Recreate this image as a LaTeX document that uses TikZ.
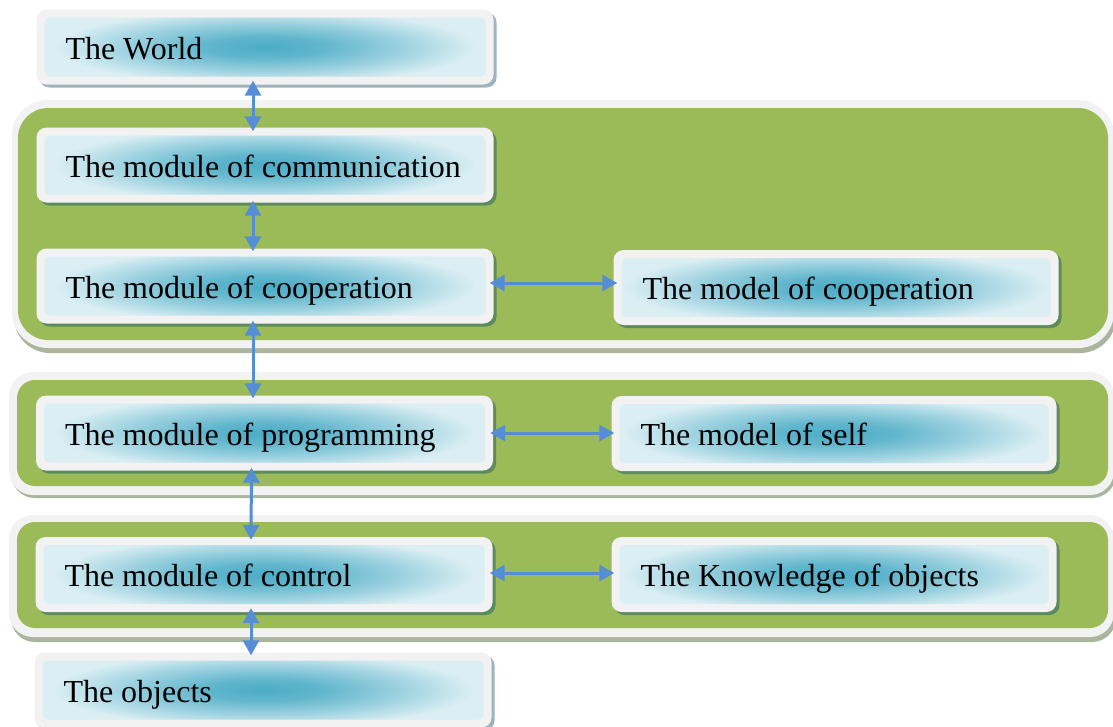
\documentclass[tikz,border=0pt]{standalone}
\usepackage{fontspec}
\setmainfont{Liberation Serif}
\usetikzlibrary{arrows.meta,calc}
\definecolor{panelgreen}{HTML}{9BBB59}
\definecolor{rimgray}{HTML}{F2F2F2}
\definecolor{glowlight}{HTML}{DAEEF3}
\definecolor{glowdark}{HTML}{4BACC6}
\colorlet{glowmidA}{glowdark!85!glowlight}
\colorlet{glowmidB}{glowdark!45!glowlight}
\definecolor{arrowblue}{HTML}{558ED5}
\definecolor{shadowgreen}{HTML}{5E8B5E}
\definecolor{shadowblue}{HTML}{9DB3BE}
\definecolor{panelshadow}{HTML}{AAB59C}
\pgfdeclareradialshading{boxglow}{\pgfpoint{0bp}{0bp}}{color(0bp)=(glowdark); color(7bp)=(glowmidA); color(16bp)=(glowmidB); color(25bp)=(glowlight); color(50bp)=(glowlight)}
\tikzset{
  stagebox/.style={rectangle, rounded corners=10pt, fill=rimgray, minimum height=75pt,
    inner sep=0pt, align=flush left, text height=24pt, text depth=0pt,
    font=\fontsize{32}{38}\selectfont,
    execute at begin node={\hspace*{6pt}},
    path picture={
      \fill[glowlight, rounded corners=5pt]
        ([shift={(8pt,-8pt)}]path picture bounding box.north west) rectangle
        ([shift={(-8pt,8pt)}]path picture bounding box.south east);
      \begin{scope}
        \clip[rounded corners=5pt]
          ([shift={(8pt,-8pt)}]path picture bounding box.north west) rectangle
          ([shift={(-8pt,8pt)}]path picture bounding box.south east);
        \shade[shading=boxglow] (path picture bounding box.center) ellipse [x radius=210pt, y radius=37pt];
      \end{scope}
    }},
  leftbox/.style={minimum width=457pt, text width=411pt},
  rightbox/.style={minimum width=445pt, text width=399pt},
  greenshadow/.style={preaction={fill=shadowgreen, transform canvas={shift={(3pt,-3pt)}}}},
  whiteshadow/.style={preaction={fill=shadowblue, transform canvas={shift={(3pt,-3pt)}}}},
  biarrow/.style={arrowblue, line width=3pt,
    {Triangle[width=16pt,length=15pt]}-{Triangle[width=16pt,length=15pt]}}
}
\begin{document}
\begin{tikzpicture}[x=1pt,y=-1pt]
\useasboundingbox (0,0) rectangle (1113,726);
% panels
\fill[panelshadow, rounded corners=36pt] (14,106) rectangle (1116,353);
\fill[rimgray, rounded corners=36pt] (12,100) rectangle (1114,348);
\fill[panelgreen, rounded corners=30pt] (18,108) rectangle (1108,340);

\fill[panelshadow, rounded corners=24pt] (11,378) rectangle (1116,498);
\fill[rimgray, rounded corners=24pt] (9,372) rectangle (1114,495);
\fill[panelgreen, rounded corners=18pt] (17,380) rectangle (1108,486);

\fill[panelshadow, rounded corners=24pt] (11,520) rectangle (1116,642);
\fill[rimgray, rounded corners=24pt] (9,515) rectangle (1114,637);
\fill[panelgreen, rounded corners=18pt] (17,522) rectangle (1108,628);

% boxes
\node[stagebox, leftbox, whiteshadow] (world) at (265,47) {The World};
\node[stagebox, leftbox, greenshadow] (comm) at (265,165) {The module of communication};
\node[stagebox, leftbox, greenshadow] (coop) at (265,286) {The module of cooperation};
\node[stagebox, rightbox, greenshadow] (modelcoop) at (836,287.5) {The model of cooperation};
\node[stagebox, leftbox, greenshadow] (prog) at (264.5,433) {The module of programming};
\node[stagebox, rightbox, greenshadow] (self) at (834,433.5) {The model of self};
\node[stagebox, leftbox, greenshadow] (control) at (264,574.5) {The module of control};
\node[stagebox, rightbox, greenshadow] (knowledge) at (834,574.5) {The Knowledge of objects};
\node[stagebox, leftbox, whiteshadow] (objects) at (263,690) {The objects};

% connectors
\draw[biarrow] ([xshift=-12pt,yshift=4pt]world.south) -- ([xshift=-12pt,yshift=-4pt]comm.north);
\draw[biarrow] ([xshift=-12pt,yshift=2pt]comm.south) -- ([xshift=-12pt,yshift=-3pt]coop.north);
\draw[biarrow] ([xshift=-12pt,yshift=3pt]coop.south) -- ([xshift=-11.5pt,yshift=-3pt]prog.north);
\draw[biarrow] ([xshift=-13pt,yshift=3pt]prog.south) -- ([xshift=-13pt,yshift=-3pt]control.north);
\draw[biarrow] ([xshift=-13pt,yshift=4pt]control.south) -- ([xshift=-12pt,yshift=-3pt]objects.north);
\draw[biarrow] ([xshift=-4pt,yshift=3pt]coop.east) -- ([xshift=4pt,yshift=4.5pt]modelcoop.west);
\draw[biarrow] ([xshift=-3pt]prog.east) -- ([xshift=3pt,yshift=0.5pt]self.west);
\draw[biarrow] ([xshift=-3pt,yshift=1.5pt]control.east) -- ([xshift=3pt,yshift=1.5pt]knowledge.west);
\end{tikzpicture}
\end{document}
